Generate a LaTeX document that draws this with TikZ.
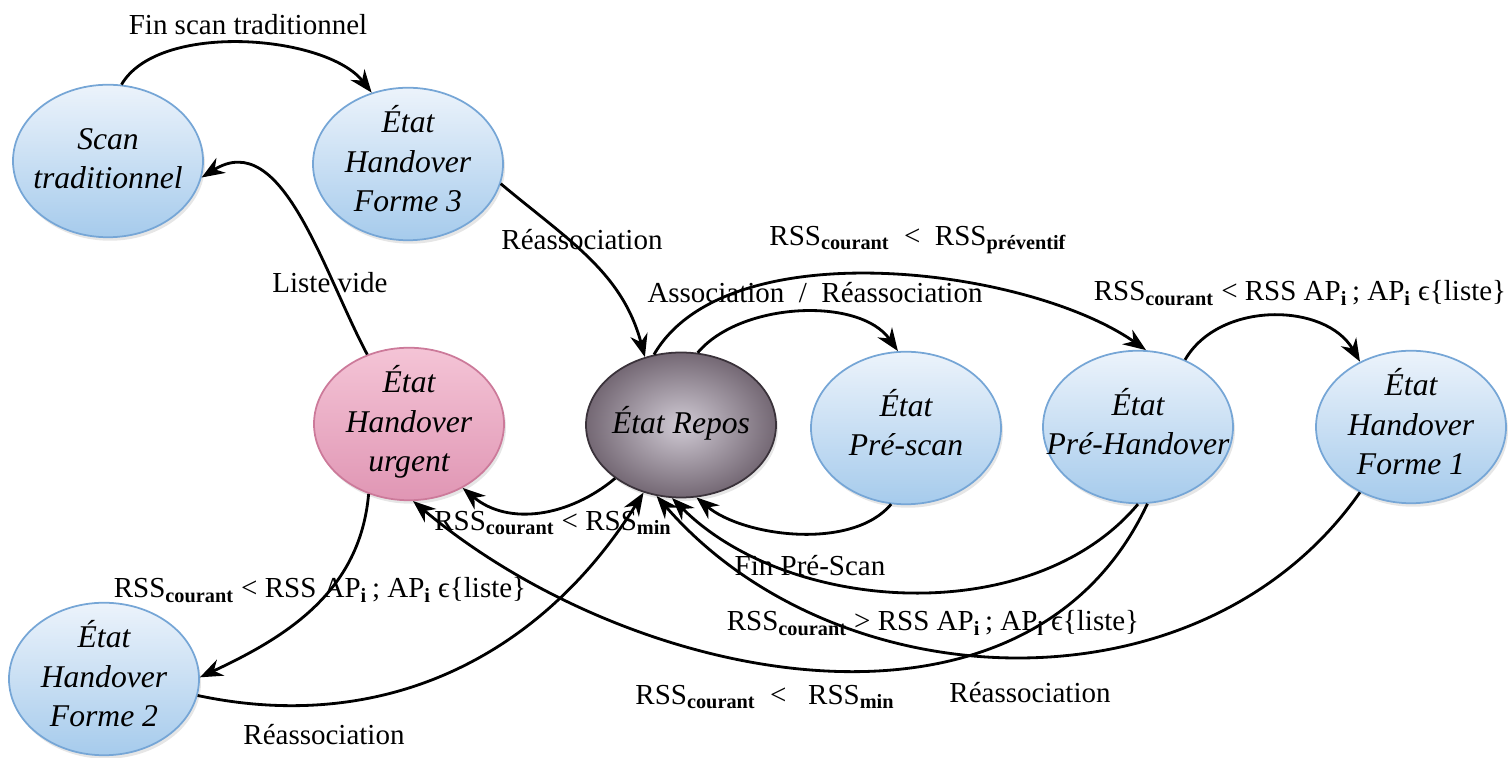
\documentclass[tikz,border=0pt]{standalone}
\usepackage{fontspec}
\setmainfont{Liberation Serif}
\usetikzlibrary{shapes.geometric,arrows.meta,shadows}

\definecolor{bleuHaut}{RGB}{236,243,251}
\definecolor{bleuBas}{RGB}{166,203,236}
\definecolor{bleuBord}{RGB}{118,166,214}
\definecolor{roseHaut}{RGB}{244,196,214}
\definecolor{roseBas}{RGB}{224,150,180}
\definecolor{roseBord}{RGB}{204,122,154}
\definecolor{grisClair}{RGB}{208,202,212}
\definecolor{grisFonce}{RGB}{116,104,116}
\definecolor{grisBord}{RGB}{58,50,58}

\newcommand{\etiq}[1]{\makebox[0pt]{\smash{\raisebox{-0.25em}{\begin{tabular}{@{}c@{}}#1\end{tabular}}}}}
\newcommand{\rsscour}{RSS\textsubscript{\textbf{courant}}}
\newcommand{\api}{AP\textsubscript{\textbf{i}}}
\newcommand{\dans}{\symbol{"03F5}}

\begin{document}
\begin{tikzpicture}[>={Stealth[length=13pt,width=10pt]},line width=1.6pt,
        etat/.style={ellipse,draw=bleuBord,line width=1pt,top color=bleuHaut,bottom color=bleuBas,
            minimum width=3.8cm,minimum height=3.05cm,inner sep=0pt,
            font=\fontsize{18}{22.5}\selectfont\itshape,
            drop shadow={opacity=0.2,shadow xshift=0.4mm,shadow yshift=-0.7mm}},
        urgent/.style={etat,draw=roseBord,top color=roseHaut,bottom color=roseBas},
        repos/.style={etat,draw=grisBord,inner color=grisClair,outer color=grisFonce,minimum height=2.9cm},
        lbl/.style={font=\fontsize{16.5}{19}\selectfont,inner sep=1pt}]
        \useasboundingbox (0,0) rectangle (30.16,15.16);
        \node[etat] (scan) at (2.16,11.94) {\etiq{Scan\\traditionnel}};
        \node[etat] (forme3) at (8.16,11.88) {\etiq{État\\Handover\\Forme 3}};
        \node[urgent] (urgent) at (8.18,6.68) {\etiq{État\\Handover\\urgent}};
        \node[repos] (repos) at (13.62,6.66) {\etiq{État Repos}};
        \node[etat] (prescan) at (18.12,6.6) {\etiq{État\\Pré-scan}};
        \node[etat] (prehand) at (22.76,6.62) {\etiq{État\\Pré-Handover}};
        \node[etat] (forme1) at (28.22,6.62) {\etiq{État\\Handover\\Forme 1}};
        \node[etat] (forme2) at (2.08,1.58) {\etiq{État\\Handover\\Forme 2}};

        \node[lbl] (l-finscan) at (4.96,14.66) {Fin scan traditionnel};
        \node[lbl] (l-vide) at (6.6,9.5) {Liste vide};
        \node[lbl] (l-reasso3) at (11.64,10.36) {Réassociation};
        \node[lbl] (l-prev) at (18.36,10.36) {\rsscour\ \ <\ \ RSS\textsubscript{\textbf{préventif}}};
        \node[lbl] (l-asso) at (16.3,9.3) {Association \ / \ Réassociation};
        \node[lbl] (l-liste1) at (26.0,9.3) {\rsscour{} < RSS \api\,; \api{} \dans\{liste\}};
        \node[lbl] (l-min) at (11.06,4.7) {\rsscour{} < RSS\textsubscript{\textbf{min}}};
        \node[lbl] (l-finpre) at (16.2,3.84) {Fin Pré-Scan};
        \node[lbl] (l-sup) at (18.66,2.7) {\rsscour{} > RSS \api\,; \api{} \dans\{liste\}};
        \node[lbl] (l-liste2) at (6.4,3.36) {\rsscour{} < RSS \api\,; \api{} \dans\{liste\}};
        \node[lbl] (l-minbas) at (15.3,1.22) {\rsscour\ \ <\ \ \ RSS\textsubscript{\textbf{min}}};
        \node[lbl] (l-reasso1) at (20.6,1.3) {Réassociation};
        \node[lbl] (l-reasso2) at (6.48,0.46) {Réassociation};

        \draw[->] (scan.80) to[out=60,in=128,looseness=0.75] (forme3.117);
        \draw[->] (urgent.121) to[out=118,in=32] (scan.-10);
        \draw[->] (forme3.-12) to[out=-40,in=105] (repos.118);
        \draw[->] (repos.77) to[out=50,in=125,looseness=0.85] (prescan.96);
        \draw[->] (repos.111) to[out=60,in=145,looseness=0.75] (prehand.84);
        \draw[->] (prehand.55) to[out=60,in=120] (forme1.128);
        \draw[->] (prescan.-101) to[out=-130,in=-40,looseness=0.8] (repos.-78);
        \draw[->] (repos.219) to[out=-140,in=-40] (urgent.-50);
        \draw[->] (urgent.-120) to[out=-95,in=25] (forme2.1);
        \draw[->] (forme2.-10) to[out=-12,in=-122] (repos.-119);
        \draw[->] (prehand.-90) to[out=-130,in=-45,looseness=0.9] (repos.-97);
        \draw[->] (prehand.-83) to[out=-115,in=-40] (urgent.-87);
        \draw[->] (forme1.-128) to[out=-125,in=-49] (repos.-109);
    \end{tikzpicture}
\end{document}
